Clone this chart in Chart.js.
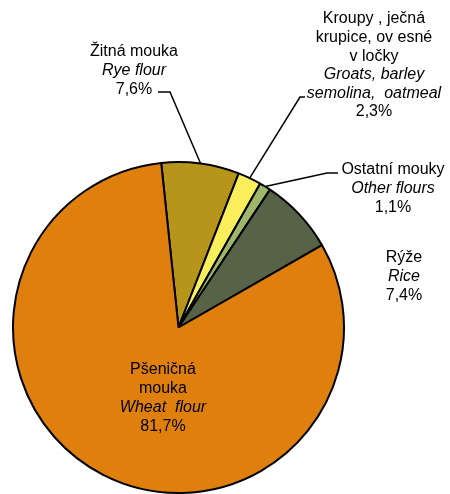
<!DOCTYPE html>
<html>
<head>
<meta charset="utf-8">
<script src="https://cdn.jsdelivr.net/npm/chart.js@4"></script>
<style>
  html, body { margin: 0; padding: 0; background: #fff; }
  #wrap { width: 450px; height: 494px; }
</style>
</head>
<body>
<div id="wrap"><canvas id="pieChart" width="450" height="494"></canvas></div>
<script>
// data
const categories = ["Žitná mouka", "Kroupy, ječná krupice, ovesné vločky", "Ostatní mouky", "Rýže", "Pšeničná mouka"];
const shares = [7.6, 2.3, 1.1, 7.4, 81.7];
const shareLabels = ["7,6%", "2,3%", "1,1%", "7,4%", "81,7%"];
const colors = ["#B7951B", "#F9EE5B", "#9EB66A", "#566347", "#DF7F0E"];

// label text blocks: [text, italic]
const labelLines = [
    [["Žitná mouka", false], ["Rye flour", true], [shareLabels[0], false]],
    [["Kroupy , ječná", false], ["krupice, ov esné", false], ["v ločky", false], ["Groats, barley", true], ["semolina,  oatmeal", true], [shareLabels[1], false]],
    [["Ostatní mouky", false], ["Other flours", true], [shareLabels[2], false]],
    [["Rýže", false], ["Rice", true], [shareLabels[3], false]],
    [["Pšeničná", false], ["mouka", false], ["Wheat  flour", true], [shareLabels[4], false]]
];

// label placement (centre x, first line y, line step) and leader elbows
const labelPos = [
    { x: 134, y: 52, step: 18.8, elbow: [170, 92], end: [158, 92] },
    { x: 374, y: 19, step: 18.6, elbow: [300, 97], end: [305, 97] },
    { x: 393, y: 170, step: 18.6, elbow: [327, 173], end: [338, 173] },
    { x: 404, y: 258, step: 18.6 },
    { x: 163, y: 370, step: 19 }
];

const labelPlugin = {
    id: "pieLabels",
    afterDatasetsDraw(chart) {
        const c = chart.ctx;
        const arcs = chart.getDatasetMeta(0).data;
        c.save();
        c.strokeStyle = "#000";
        c.lineWidth = 1.5;
        arcs.forEach((arc, i) => {
            const p = labelPos[i];
            if (!p.elbow) return;
            const a = arc.getProps(["x", "y", "startAngle", "endAngle", "outerRadius"], true);
            const mid = (a.startAngle + a.endAngle) / 2;
            const px = a.x + Math.cos(mid) * a.outerRadius;
            const py = a.y + Math.sin(mid) * a.outerRadius;
            c.beginPath();
            c.moveTo(px, py);
            c.lineTo(p.elbow[0], p.elbow[1]);
            c.lineTo(p.end[0], p.end[1]);
            c.stroke();
        });
        c.fillStyle = "#000";
        c.textAlign = "center";
        c.textBaseline = "middle";
        labelLines.forEach((lines, i) => {
            const p = labelPos[i];
            lines.forEach((ln, j) => {
                c.font = (ln[1] ? "italic " : "") + "16px 'Liberation Sans', Arial, sans-serif";
                c.fillText(ln[0], p.x, p.y + j * p.step);
            });
        });
        c.restore();
    }
};

new Chart(document.getElementById("pieChart"), {
    type: "pie",
    data: {
        labels: categories,
        datasets: [{
            data: shares,
            backgroundColor: colors,
            borderColor: "#000",
            borderWidth: 2
        }]
    },
    options: {
        responsive: false,
        animation: false,
        rotation: -6,
        layout: {
            padding: { left: 12, top: 161, right: 105, bottom: 0 }
        },
        plugins: {
            legend: { display: false },
            tooltip: { enabled: false }
        }
    },
    plugins: [labelPlugin]
});
</script>
</body>
</html>
